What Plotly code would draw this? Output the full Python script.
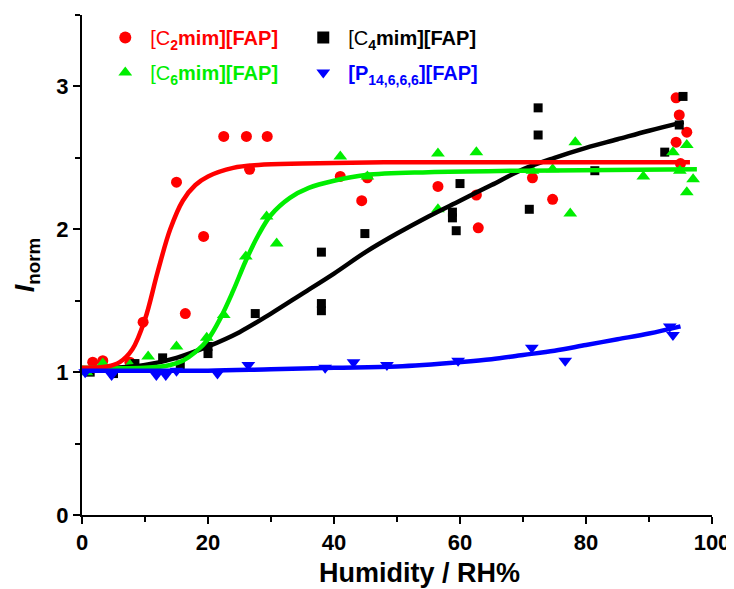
import plotly.graph_objects as go

# ---- data ----
c2_x = [1.7, 3.3, 7.6, 9.7, 15.0, 16.4, 19.3, 22.5, 26.1, 26.6, 29.4, 41.0, 44.4, 45.3, 56.5, 62.6, 62.9, 71.5, 74.7, 94.3, 94.8, 96.0, 94.3, 95.0]
c2_y = [1.07, 1.08, 1.07, 1.35, 2.33, 1.41, 1.95, 2.65, 2.65, 2.42, 2.65, 2.37, 2.20, 2.36, 2.30, 2.24, 2.01, 2.36, 2.21, 2.92, 2.80, 2.68, 2.61, 2.46]

c4_x = [1.3, 5.0, 8.4, 12.8, 15.6, 20.0, 20.0, 27.5, 38.0, 38.0, 38.0, 44.9, 58.8, 58.8, 59.4, 60.0, 71.0, 72.4, 72.4, 81.4, 92.5, 94.8, 95.4]
c4_y = [1.00, 0.99, 1.06, 1.10, 1.05, 1.13, 1.18, 1.41, 1.84, 1.48, 1.43, 1.97, 2.12, 2.08, 1.99, 2.32, 2.14, 2.85, 2.66, 2.41, 2.54, 2.73, 2.93]

c6_x = [0.7, 3.3, 7.6, 10.5, 15.0, 19.8, 22.5, 26.0, 29.3, 30.9, 41.0, 45.3, 56.5, 56.5, 62.6, 71.5, 74.7, 77.5, 78.3, 89.1, 93.8, 94.9, 96.0, 96.0, 97.0]
c6_y = [1.00, 1.06, 1.05, 1.11, 1.18, 1.24, 1.40, 1.81, 2.09, 1.90, 2.51, 2.37, 2.53, 2.14, 2.54, 2.41, 2.42, 2.11, 2.61, 2.37, 2.54, 2.41, 2.59, 2.26, 2.35]

p_x = [0.5, 4.7, 11.8, 13.3, 15.0, 21.5, 26.4, 38.6, 43.1, 48.4, 59.7, 71.4, 76.7, 93.3, 93.8]
p_y = [1.00, 0.98, 0.98, 0.98, 1.01, 0.99, 1.05, 1.03, 1.07, 1.05, 1.08, 1.17, 1.08, 1.32, 1.26]

# fitted curves
c2_fit_x = [0, 4, 6, 8, 10, 12, 14, 16, 18, 20, 24, 28, 35, 50, 70, 96.5]
c2_fit_y = [1.03, 1.04, 1.07, 1.16, 1.37, 1.70, 2.00, 2.20, 2.31, 2.37, 2.43, 2.45, 2.46, 2.47, 2.47, 2.47]

c6_fit_x = [0, 10, 14, 16, 18, 20, 22, 24, 26, 28, 30, 33, 36, 40, 45, 55, 70, 97.6]
c6_fit_y = [1.03, 1.03, 1.05, 1.08, 1.14, 1.23, 1.38, 1.57, 1.78, 1.96, 2.10, 2.22, 2.29, 2.34, 2.38, 2.40, 2.41, 2.42]

c4_fit_x = [0, 5, 10, 15, 20, 25, 30, 35, 40, 45, 50, 55, 60, 65, 70, 75, 80, 85, 90, 95.5]
c4_fit_y = [1.02, 1.03, 1.05, 1.10, 1.18, 1.28, 1.41, 1.55, 1.69, 1.84, 1.97, 2.09, 2.20, 2.31, 2.42, 2.50, 2.57, 2.63, 2.69, 2.75]

p_fit_x = [0, 10, 20, 30, 40, 50, 60, 65, 70, 75, 80, 85, 90, 95]
p_fit_y = [1.01, 1.01, 1.01, 1.02, 1.03, 1.04, 1.07, 1.09, 1.12, 1.15, 1.19, 1.23, 1.27, 1.32]

x_ticks = [0, 20, 40, 60, 80, 100]
y_ticks = [0, 1, 2, 3]

RED, BLACK, GREEN, BLUE = "#ff0000", "#000000", "#00ee00", "#0000ff"
FONT = "Liberation Sans, Arial, sans-serif"

fig = go.Figure()

def name(prefix, sub, rest, color):
    return (f'<span style="color:{color}">{prefix}<b><sub>{sub}</sub>{rest}</b></span>')

series = [
    (c2_x, c2_y, RED, "circle", 11, name("[C", "2", "mim][FAP]", RED), "legend", 1),
    (c4_x, c4_y, BLACK, "square", 9, name("[C", "4", "mim][FAP]", BLACK), "legend", 2),
    (c6_x, c6_y, GREEN, "triangle-up", 12, name("[C", "6", "mim][FAP]", GREEN), "legend2", 3),
    (p_x, p_y, BLUE, "triangle-down", 12, name("<b>[P</b>", "14,6,6,6", "][FAP]", BLUE), "legend2", 4),
]
for xs, ys, col, sym, sz, nm, lg, rk in series:
    fig.add_trace(go.Scatter(x=xs, y=ys, mode="markers", name=nm, legend=lg, legendrank=rk,
                             marker=dict(color=col, symbol=sym, size=sz, line=dict(width=0)),
                             cliponaxis=False))

for fx, fy, col in [(c4_fit_x, c4_fit_y, BLACK), (c6_fit_x, c6_fit_y, GREEN),
                    (c2_fit_x, c2_fit_y, RED), (p_fit_x, p_fit_y, BLUE)]:
    fig.add_trace(go.Scatter(x=fx, y=fy, mode="lines", line=dict(color=col, width=4.5, shape="spline"),
                             showlegend=False, hoverinfo="skip"))

axis_common = dict(showgrid=False, zeroline=False, showline=True, linecolor="black", linewidth=2,
                   ticks="outside", ticklen=7, tickwidth=2, tickcolor="black", automargin=False,
                   tickfont=dict(family=FONT, size=22, color="black", weight="bold"))

legend_common = dict(orientation="h", xanchor="left", yanchor="top",
                     entrywidth=143, entrywidthmode="pixels", bgcolor="rgba(0,0,0,0)",
                     font=dict(family=FONT, size=20), itemsizing="constant", itemwidth=40)

# page body has an 8px margin, so the figure is 8px smaller than the window
fig.update_layout(
    width=726, height=581,
    margin=dict(l=74, r=22, t=7, b=74),
    paper_bgcolor="white", plot_bgcolor="white",
    font=dict(family=FONT, color="black"),
    xaxis=dict(range=[0, 100], tickvals=x_ticks, ticktext=[str(v) for v in x_ticks],
               minor=dict(dtick=10, tick0=0, ticks="outside", ticklen=5, tickwidth=2, tickcolor="black"),
               **axis_common),
    yaxis=dict(range=[0, 3.5], tickvals=y_ticks, ticktext=[str(v) for v in y_ticks],
               minor=dict(dtick=0.5, tick0=0, ticks="outside", ticklen=5, tickwidth=2, tickcolor="black"),
               title=dict(text="<b><i>I</i><sub>norm</sub></b>", font=dict(family=FONT, size=27, color="black"), standoff=14),
               **axis_common),
    legend=dict(x=0.029, y=0.994, **legend_common),
    legend2=dict(x=0.029, y=0.924, **legend_common),
    annotations=[dict(text="<b>Humidity / RH%</b>", xref="paper", yref="paper", x=0.535, y=0,
                      xanchor="center", yanchor="middle", yshift=-58, showarrow=False,
                      font=dict(family=FONT, size=27, color="black"))],
)

fig.write_html("out.html")
